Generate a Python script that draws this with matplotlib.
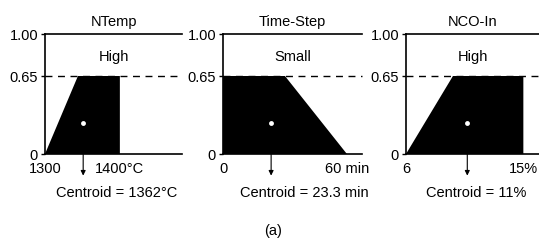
import matplotlib
matplotlib.use('Agg')
import matplotlib.pyplot as plt

plt.rcParams['font.family'] = ['Liberation Sans', 'DejaVu Sans']
plt.rcParams['font.size'] = 10.5

# ---------------- data ----------------
titles = ['NTemp', 'Time-Step', 'NCO-In']
set_names = ['High', 'Small', 'High']

# clipped membership shapes (x, membership)
ntemp_x = [1300, 1344, 1400, 1400]
ntemp_y = [0, 0.65, 0.65, 0]
step_x = [0, 0, 30, 60]
step_y = [0, 0.65, 0.65, 0]
nco_x = [6, 9.6, 15, 15]
nco_y = [0, 0.65, 0.65, 0]

clip_level = 0.65
y_ticks = [0, 0.65, 1.0]
y_labels = ['0', '0.65', '1.00']

x_ticks = [[1300, 1400], [0, 60], [6, 15]]
x_labels = [['1300', '1400°C'], ['0', '60 min'], ['6', '15%']]
x_limits = [(1300, 1483), (0, 67.3), (6, 16.2)]

centroid_x = [1351, 23.3, 10.7]
centroid_text = ['Centroid = 1362°C', 'Centroid = 23.3 min', 'Centroid = 11%']

shapes = [(ntemp_x, ntemp_y), (step_x, step_y), (nco_x, nco_y)]

# ---------------- layout ----------------
W, H = 539, 245
fig = plt.figure(figsize=(W / 100, H / 100), dpi=100)
boxes = [(45, 182), (223, 362), (406, 539)]
top_px, bot_px = 34, 154
text_x = [0.526, 0.583, 0.526]

for i in range(3):
    l, r = boxes[i]
    ax = fig.add_axes([l / W, 1 - bot_px / H, (r - l) / W, (bot_px - top_px) / H])
    xs, ys = shapes[i]
    ax.fill(xs, ys, color='black', lw=0)
    ax.axhline(clip_level, color='black', lw=1.0, ls=(0, (5, 4)), clip_on=False)
    ax.set_xlim(*x_limits[i])
    ax.set_ylim(0, 1)
    ax.spines['right'].set_visible(False)
    for s in ['left', 'top', 'bottom']:
        ax.spines[s].set_linewidth(1.2)
    ax.set_yticks(y_ticks)
    ax.set_yticklabels(y_labels)
    ax.set_xticks(x_ticks[i])
    ax.set_xticklabels(x_labels[i])
    ax.tick_params(axis='y', length=3, width=1, pad=2)
    ax.tick_params(axis='x', length=0, pad=6)
    ax.set_title(titles[i], fontsize=10.5, pad=6)
    ax.text(0.5, 0.81, set_names[i], transform=ax.transAxes,
            ha='center', va='center', fontsize=10.5)

    # centroid marker and arrow
    cx = centroid_x[i]
    ax.plot([cx], [0.26], 'o', color='white', ms=3.5, mec='none')
    ax.annotate('', xy=(cx, -0.18), xytext=(cx, 0),
                xycoords=ax.get_xaxis_transform(),
                textcoords=ax.get_xaxis_transform(),
                arrowprops=dict(arrowstyle='-|>', lw=0.8, color='black',
                                mutation_scale=7, shrinkA=0, shrinkB=0),
                annotation_clip=False)
    ax.text(text_x[i], -0.325, centroid_text[i], transform=ax.transAxes,
            ha='center', va='center', fontsize=10.5)

fig.text(273 / W, 1 - 231 / H, '(a)', ha='center', va='center', fontsize=10.5)

fig.savefig('out.png', dpi=100)
